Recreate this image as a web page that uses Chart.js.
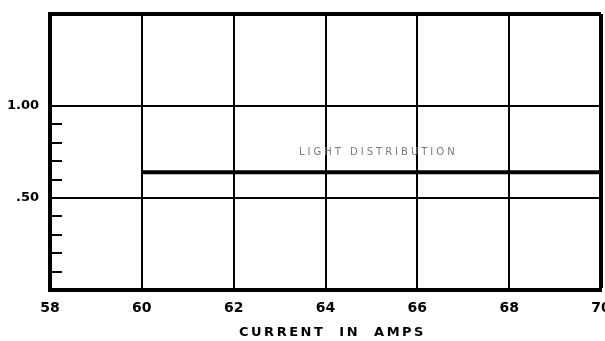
<!DOCTYPE html>
<html><head><meta charset="utf-8">
<script src="https://cdn.jsdelivr.net/npm/chart.js@4/dist/chart.umd.min.js"></script>
<style>html,body{margin:0;padding:0;background:#fff}#wrap{width:605px;height:341px}</style>
</head><body><div id="wrap"><canvas id="c" width="605" height="341"></canvas></div>
<script>
// data
const xTicks = [58, 60, 62, 64, 66, 68, 70];
const xTickLabels = ["58", "60", "62", "64", "66", "68", "70"];
const yTicks = [0, 0.5, 1.0, 1.5];
const yTickLabels = ["", ".50", "1.00", ""];
const yMinorTicks = [0.1, 0.2, 0.3, 0.4, 0.6, 0.7, 0.8, 0.9];
const seriesCurrent = [60, 70];
const seriesLight = [0.64, 0.64];
const seriesName = "LIGHT DISTRIBUTION";
const xTitle = "CURRENT  IN  AMPS";

const FONT = "'DejaVu Sans', sans-serif";

const extrasPlugin = {
  id: 'extras',
  afterDatasetsDraw(chart) {
    const ctx = chart.ctx, y = chart.scales.y, x = chart.scales.x, a = chart.chartArea;
    ctx.save();
    ctx.strokeStyle = '#000'; ctx.lineWidth = 2;
    yMinorTicks.forEach(v => {
      const py = Math.round(y.getPixelForValue(v));
      ctx.beginPath(); ctx.moveTo(a.left, py); ctx.lineTo(a.left + 12, py); ctx.stroke();
    });
    // series label
    ctx.fillStyle = '#7a7a7a';
    ctx.font = "10px " + FONT;
    ctx.textAlign = 'center'; ctx.textBaseline = 'middle';
    if ('letterSpacing' in ctx) ctx.letterSpacing = '3px';
    ctx.fillText(seriesName, x.getPixelForValue(65.15), y.getPixelForValue(0.75));
    // x axis title
    ctx.fillStyle = '#000';
    ctx.font = "bold 13px " + FONT;
    if ('letterSpacing' in ctx) ctx.letterSpacing = '2.5px';
    ctx.fillText(xTitle, (a.left + a.right) / 2 + 7, 333);
    ctx.restore();
  }
};

new Chart(document.getElementById('c'), {
  type: 'line',
  data: {
    datasets: [{
      label: seriesName,
      data: seriesCurrent.map((c, i) => ({x: c, y: seriesLight[i]})),
      borderColor: '#000', borderWidth: 4, pointRadius: 0, tension: 0
    }]
  },
  options: {
    responsive: false, animation: false,
    layout: {padding: {top: 14, right: 4, left: 0, bottom: 0}},
    plugins: {legend: {display: false}, tooltip: {enabled: false}},
    scales: {
      x: {
        type: 'linear', min: 58, max: 70,
        afterBuildTicks: s => { s.ticks = xTicks.map(v => ({value: v})); },
        afterFit: s => { s.height = 51; s.paddingLeft = 0; s.paddingRight = 0; },
        grid: {color: '#000', lineWidth: c => (c.tick && c.tick.value === 70) ? 4 : 2, drawTicks: false},
        border: {color: '#000', width: 4},
        ticks: {
          color: '#000', padding: 10, maxRotation: 0, autoSkip: false,
          font: {family: FONT, size: 14, weight: 'bold'},
          callback: (v) => { const i = xTicks.indexOf(v); return i >= 0 ? xTickLabels[i] : ''; }
        }
      },
      y: {
        min: 0, max: 1.5,
        afterBuildTicks: s => { s.ticks = yTicks.map(v => ({value: v})); },
        afterFit: s => { s.width = 50; s.paddingTop = 0; s.paddingBottom = 0; },
        grid: {color: '#000', lineWidth: c => (c.tick && c.tick.value === 1.5) ? 4 : 2, drawTicks: false},
        border: {color: '#000', width: 4},
        ticks: {
          color: '#000', padding: 11, autoSkip: false,
          font: {family: FONT, size: 13, weight: 'bold'},
          callback: (v) => { const i = yTicks.indexOf(v); return i >= 0 ? yTickLabels[i] : ''; }
        }
      }
    }
  },
  plugins: [extrasPlugin]
});
</script></body></html>
